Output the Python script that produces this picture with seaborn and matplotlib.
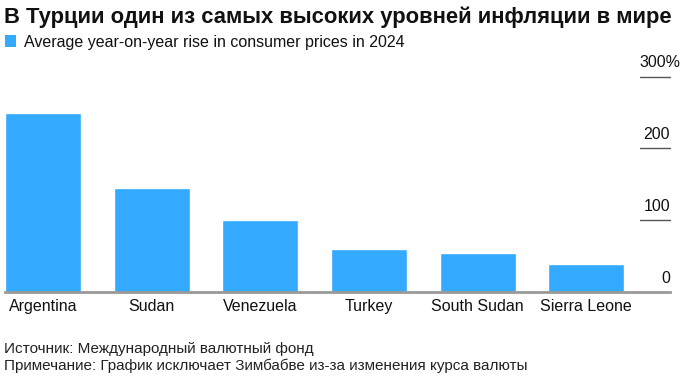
import seaborn as sns
import pandas as pd
import matplotlib.pyplot as plt
from matplotlib.patches import Patch

countries = ["Argentina", "Sudan", "Venezuela", "Turkey", "South Sudan", "Sierra Leone"]
inflation = [250, 145, 100, 60, 55, 39]
y_ticks = [0, 100, 200, 300]
y_labels = ["0", "100", "200", "300%"]

title = "В Турции один из самых высоких уровней инфляции в мире"
legend_label = "Average year-on-year rise in consumer prices in 2024"
source = "Источник: Международный валютный фонд"
note = "Примечание: График исключает Зимбабве из-за изменения курса валюты"

bar_color = "#33aaff"

sns.set_theme(style="white")
plt.rcParams['font.family'] = ['Liberation Sans', 'DejaVu Sans']

df = pd.DataFrame({"country": countries, "value": inflation})

fig = plt.figure(figsize=(6.86, 3.78), dpi=100)
ax = fig.add_axes([5 / 686, 1 - 292 / 378, 665 / 686, (292 - 76.7) / 378])

sns.barplot(data=df, x="country", y="value", color=bar_color, width=0.7,
            saturation=1, ax=ax)

ax.set_xlim(-0.35, 5.77)
ax.set_ylim(0, 300)
ax.set_xlabel("")
ax.set_ylabel("")
ax.set_yticks([])
sns.despine(ax=ax, left=True, right=True, top=True, bottom=False)
ax.spines["bottom"].set_color("#999999")
ax.spines["bottom"].set_linewidth(2)
ax.tick_params(axis="x", length=0, pad=5, labelsize=11.5, labelcolor="#111111")

# short gridlines on the right with labels above them
for t, lab in zip(y_ticks, y_labels):
    if t > 0:
        ax.axhline(t, xmin=0.955, xmax=1.0, color="#555555", linewidth=1.0,
                   clip_on=False)
    # the % sign hangs past the right edge
    dx = 7.5 if lab.endswith("%") else 0
    ax.annotate(lab, xy=(1.0, t), xycoords=("axes fraction", "data"),
                xytext=(dx, 4.5), textcoords="offset points",
                ha="right", va="bottom", fontsize=11.5, color="#111111",
                annotation_clip=False)

fig.text(4 / 686, 1 - 17 / 378, title, fontsize=15.8, fontweight="bold",
         color="#111111", va="center", ha="left")

fig.legend(handles=[Patch(facecolor=bar_color, edgecolor="none")],
           labels=[legend_label], loc="center left",
           bbox_to_anchor=(0, 1 - 42 / 378), frameon=False,
           handlelength=0.7, handleheight=0.7, handletextpad=0.5,
           borderaxespad=0, borderpad=0.3, fontsize=11.5,
           labelcolor="#111111")

fig.text(4 / 686, 1 - 349 / 378, source, fontsize=11, color="#222222",
         va="center", ha="left")
fig.text(4 / 686, 1 - 366 / 378, note, fontsize=11, color="#222222",
         va="center", ha="left")

fig.savefig("out.png", dpi=100, facecolor="white")
